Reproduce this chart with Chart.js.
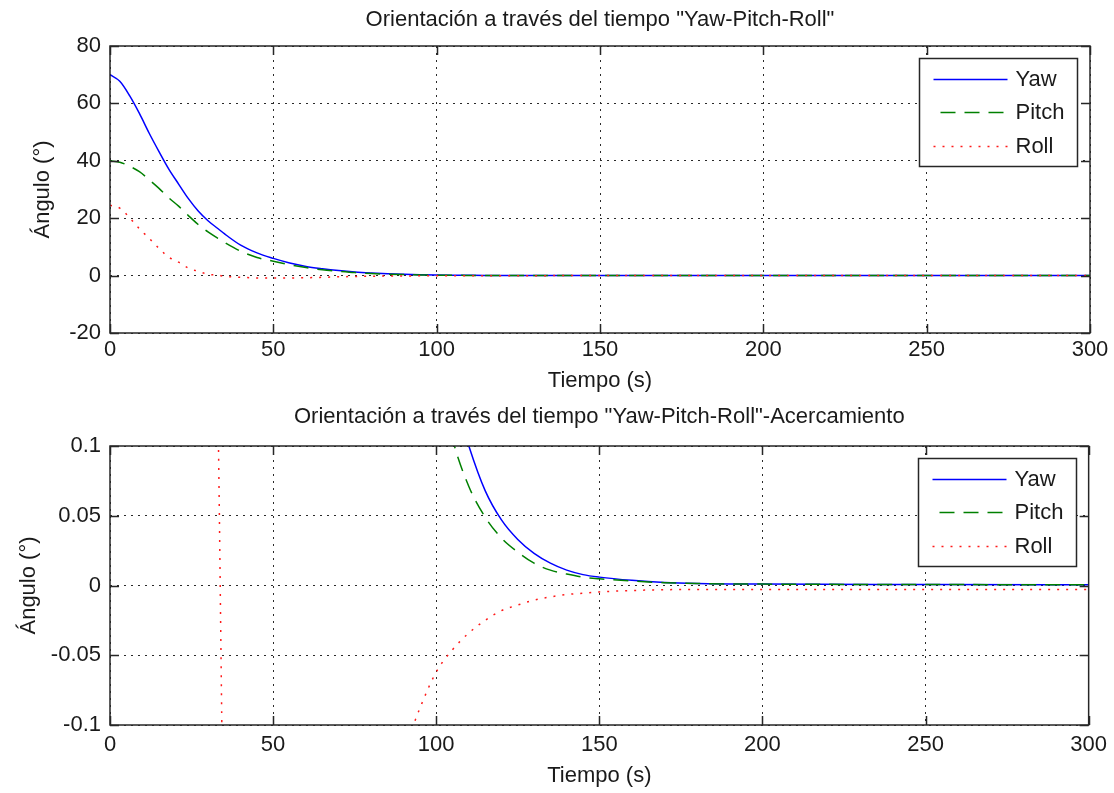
<!DOCTYPE html>
<html><head><meta charset="utf-8">
<script src="https://cdn.jsdelivr.net/npm/chart.js@4.4.1/dist/chart.umd.min.js"></script>
<style>
html,body{margin:0;padding:0;background:#fff;}
canvas{display:block;}
</style></head><body>
<canvas id="c1" width="1114" height="396"></canvas>
<canvas id="c2" width="1114" height="397"></canvas>
<script>
// ---- data ----
const tiempo = [0,3,6,9,12,15,18,21,24,27,30,33,35,40,45,50,55,60,65,70,75,80,85,90,95,100,105,110,115,120,125,130,135,140,145,150,160,170,180,200,250,300];
const yaw = [70,67.7,62.7,56.5,49.6,43.2,37.1,31.9,26.8,22.5,19.1,16.4,14.6,10.6,7.9,6.0,4.4,3.2,2.4,1.75,1.25,0.9,0.62,0.43,0.3,0.2,0.14,0.1,0.068,0.047,0.033,0.023,0.016,0.011,0.0078,0.006,0.0037,0.0022,0.0015,0.001,0.0007,0.0005];
const pitch = [40,39.5,38.1,36.2,33.4,30.4,27.1,24.2,20.9,17.8,15.2,13.0,11.6,8.5,6.3,5.0,3.8,2.8,2.0,1.5,1.05,0.72,0.5,0.36,0.24,0.16,0.105,0.071,0.049,0.034,0.024,0.016,0.011,0.0082,0.006,0.0048,0.0032,0.002,0.0014,0.001,0.0007,0.0005];
const roll = [24.5,23.5,20.2,16.3,13,9.5,6.4,4.7,2.6,1.5,0.45,0.14,-0.22,-0.6,-0.8,-0.85,-0.85,-0.75,-0.6,-0.42,-0.3,-0.22,-0.16,-0.12,-0.088,-0.062,-0.046,-0.034,-0.025,-0.018,-0.014,-0.0105,-0.0082,-0.0065,-0.0055,-0.0046,-0.0036,-0.003,-0.0029,-0.0028,-0.0028,-0.0028];
const seriesNames = ['Yaw','Pitch','Roll'];
const xTicks = [0,50,100,150,200,250,300];
const yTicksTop = [-20,0,20,40,60,80];
const yTicksZoom = [-0.1,-0.05,0,0.05,0.1];
const yTickLabelsZoom = ['-0.1','-0.05','0','0.05','0.1'];
const titleTop = 'Orientación a través del tiempo "Yaw-Pitch-Roll"';
const titleZoom = 'Orientación a través del tiempo "Yaw-Pitch-Roll"-Acercamiento';
const xTitle = 'Tiempo (s)';
const yTitle = 'Ángulo (°)';

// ---- style ----
const FONT = '"Liberation Sans", Arial, Helvetica, sans-serif';
const TXT = '#1a1a1a';
const f22 = {family: FONT, size: 22, weight: 'normal'};

function makeDatasets(){
  const pts = arr => tiempo.map((t,i)=>({x:t, y:arr[i]}));
  const common = {pointRadius:0, fill:false, cubicInterpolationMode:'monotone'};
  return [
    Object.assign({label:seriesNames[0], data:pts(yaw), borderColor:'#0000ff', borderWidth:1.5, borderDash:[], order:3}, common),
    Object.assign({label:seriesNames[1], data:pts(pitch), borderColor:'#008000', borderWidth:1.5, borderDash:[15,9], order:2}, common),
    Object.assign({label:seriesNames[2], data:pts(roll), borderColor:'#ff1a1a', borderWidth:1.5, borderDash:[2,7], order:1}, common)
  ];
}

const framePlugin = {
  id: 'matlabFrame',
  afterDatasetsDraw(chart){
    const {ctx, chartArea:a, scales} = chart;
    ctx.save();
    ctx.setLineDash([]);
    ctx.strokeStyle = '#262626';
    ctx.lineWidth = 1.5;
    ctx.strokeRect(a.left, a.top, a.right - a.left, a.bottom - a.top);
    const L = 9;
    ctx.beginPath();
    scales.x.ticks.forEach(t => {
      const px = Math.round(scales.x.getPixelForValue(t.value)) + 0.5;
      ctx.moveTo(px, a.bottom); ctx.lineTo(px, a.bottom - L);
      ctx.moveTo(px, a.top); ctx.lineTo(px, a.top + L);
    });
    scales.y.ticks.forEach(t => {
      const py = Math.round(scales.y.getPixelForValue(t.value)) + 0.5;
      ctx.moveTo(a.left, py); ctx.lineTo(a.left + L, py);
      ctx.moveTo(a.right, py); ctx.lineTo(a.right - L, py);
    });
    ctx.stroke();

    // legend box (MATLAB style)
    const bw = 158, bh = 108;
    const bx = Math.round(a.right - 13 - bw) + 0.5, by = Math.round(a.top + 12) + 0.5;
    ctx.fillStyle = '#fff';
    ctx.fillRect(bx, by, bw, bh);
    ctx.strokeStyle = '#262626';
    ctx.lineWidth = 1.5;
    ctx.strokeRect(bx, by, bw, bh);
    const rows = [20, 53, 87];
    chart.data.datasets.forEach((ds, i) => {
      const y = Math.round(by + rows[i]) + 0.5;
      ctx.beginPath();
      ctx.strokeStyle = ds.borderColor;
      ctx.lineWidth = ds.borderWidth;
      ctx.setLineDash(ds.borderDash || []);
      ctx.lineDashOffset = i === 1 ? -7 : 0;
      ctx.moveTo(bx + 14, y); ctx.lineTo(bx + 88, y);
      ctx.stroke();
      ctx.setLineDash([]);
      ctx.fillStyle = TXT;
      ctx.font = '22px ' + FONT;
      ctx.textAlign = 'left';
      ctx.textBaseline = 'middle';
      ctx.fillText(ds.label, bx + 96, y);
    });
    ctx.restore();
  }
};

function makeChart(id, cfg){
  return new Chart(document.getElementById(id), {
    type: 'line',
    data: {datasets: makeDatasets()},
    plugins: [framePlugin],
    options: {
      responsive: false, animation: false, devicePixelRatio: 1,
      layout: {padding: {left: 0, right: 24, top: 0, bottom: 0}},
      plugins: {
        legend: {display: false},
        tooltip: {enabled: false},
        title: {display: true, text: cfg.title, color: TXT, font: f22, fullSize: false,
                padding: {top: cfg.tTop, bottom: cfg.tBot}}
      },
      scales: {
        x: {
          type: 'linear', min: 0, max: 300,
          afterBuildTicks: s => { s.ticks = xTicks.map(v => ({value: v})); },
          afterFit: s => { s.height = cfg.xH; },
          ticks: {padding: cfg.xPad, color: TXT, font: f22, maxRotation: 0, autoSkip: false,
                  callback: v => String(v)},
          grid: {color: '#2a2a2a', lineWidth: 1, drawTicks: false},
          border: {display: false, dash: [2, 5]},
          title: {display: true, text: xTitle, color: TXT, font: f22, padding: {top: 0, bottom: cfg.xtPad}}
        },
        y: {
          type: 'linear', min: cfg.yMin, max: cfg.yMax,
          afterBuildTicks: s => { s.ticks = cfg.yTicks.map(v => ({value: v})); },
          afterFit: s => { s.width = 110; },
          ticks: {padding: 9, color: TXT, font: f22, autoSkip: false,
                  callback: v => cfg.yLabel(v)},
          grid: {color: '#2a2a2a', lineWidth: 1, drawTicks: false},
          border: {display: false, dash: [2, 5]},
          title: {display: true, text: yTitle, color: TXT, font: f22, padding: {top: cfg.ytPad, bottom: 0}}
        }
      }
    }
  });
}

makeChart('c1', {
  title: titleTop, tTop: 7, tBot: 12.6, xH: 63, xPad: 4, xtPad: 2, ytPad: 30,
  yMin: -20, yMax: 80, yTicks: yTicksTop, yLabel: v => String(v)
});
makeChart('c2', {
  title: titleZoom, tTop: 8, tBot: 15.6, xH: 68, xPad: 7, xtPad: 4, ytPad: 16,
  yMin: -0.1, yMax: 0.1, yTicks: yTicksZoom,
  yLabel: v => { const i = yTicksZoom.findIndex(t => Math.abs(t - v) < 1e-9); return i >= 0 ? yTickLabelsZoom[i] : String(v); }
});
</script>
</body></html>
